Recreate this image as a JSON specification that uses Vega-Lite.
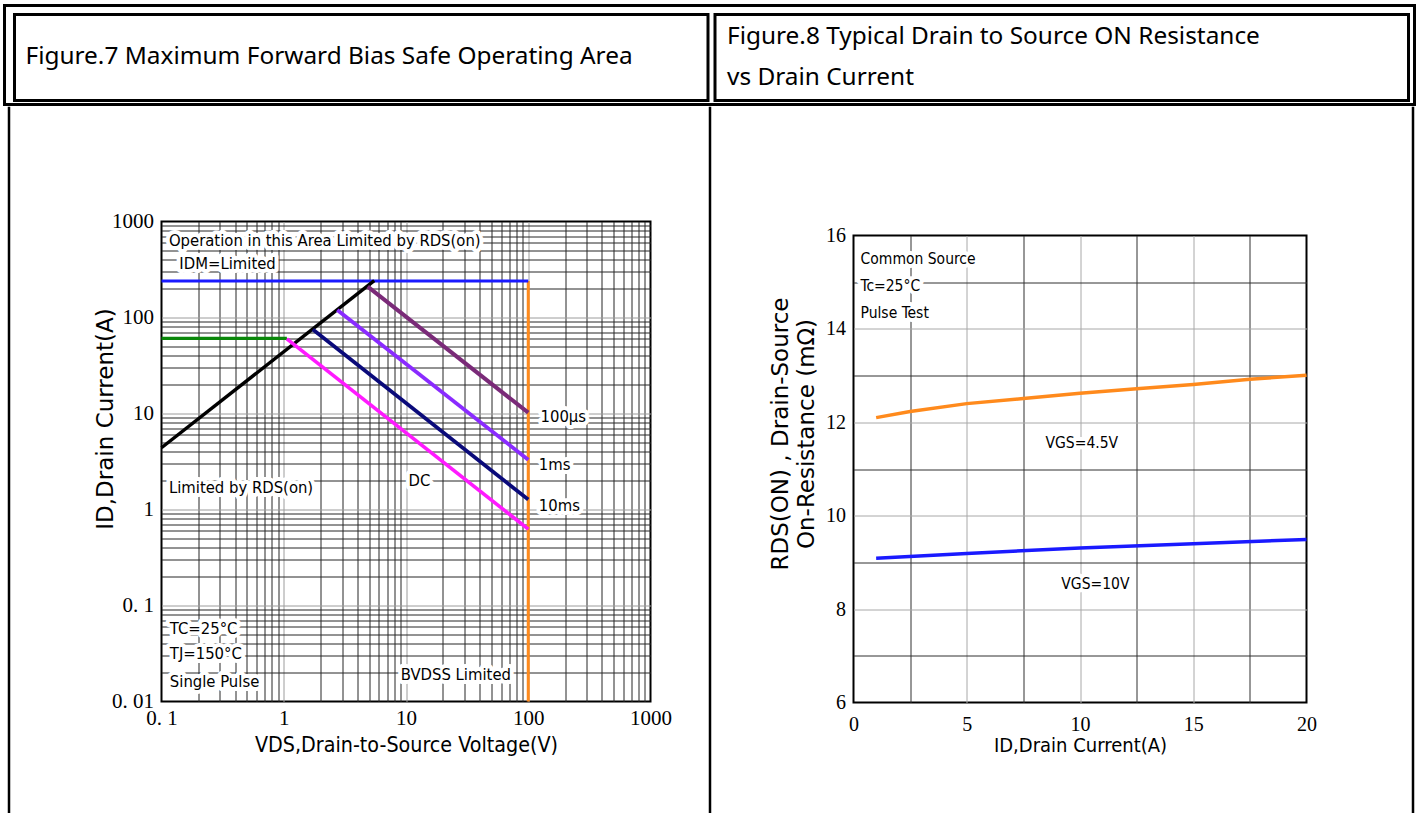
{
  "$schema": "https://vega.github.io/schema/vega-lite/v6.json",
  "background": "white",
  "padding": {"left": 2.5, "top": 3.5, "right": 2, "bottom": 0},
  "config": {"view": {"stroke": null}},
  "spacing": 0,
  "vconcat": [
    {
      "width": 1410, "height": 99,
      "view": {"stroke": "black", "strokeWidth": 3},
      "data": {"values": [
        {"panel": "Figure.7", "sec": "header", "title": "Figure.7 Maximum Forward Bias Safe Operating Area"},
        {"panel": "Figure.8", "sec": "header", "title": ["Figure.8 Typical Drain to Source ON Resistance", "vs Drain Current"]}
      ]},
      "encoding": {
        "x": {"field": "panel", "type": "nominal", "axis": null, "scale": {"paddingInner": 0.009993, "paddingOuter": 0.01142, "align": 0.625}},
        "y": {"field": "sec", "type": "nominal", "axis": null, "scale": {"paddingInner": 0, "paddingOuter": 0.0756, "align": 0.692}}
      },
      "layer": [
        {"mark": {"type": "rect", "fill": "white", "stroke": "black", "strokeWidth": 3}},
        {
          "transform": [{"filter": "datum.panel == 'Figure.7'"}],
          "mark": {"type": "text", "align": "left", "baseline": "middle", "font": "Noto Sans", "fontSize": 24.4, "dx": 11, "color": "black"},
          "encoding": {
            "x": {"field": "panel", "type": "nominal", "bandPosition": 0},
            "text": {"field": "title", "type": "nominal"}
          }
        },
        {
          "transform": [{"filter": "datum.panel == 'Figure.8'"}],
          "mark": {"type": "text", "align": "left", "baseline": "middle", "font": "Noto Sans", "fontSize": 24.4, "dx": 12, "dy": -20.5, "lineHeight": 41, "color": "black"},
          "encoding": {
            "x": {"field": "panel", "type": "nominal", "bandPosition": 0},
            "text": {"field": "title", "type": "nominal"}
          }
        }
      ]
    },
    {
      "spacing": 0,
      "hconcat": [
        {"width": 2.5, "height": 1, "data": {"values": []}, "mark": {"type": "point", "opacity": 0}, "encoding": {}},
        {"width": 1, "height": 709, "view": {"stroke": "black", "strokeWidth": 1.5}, "data": {"values": []}, "mark": {"type": "point", "opacity": 0}, "encoding": {}},
        {"width": 83, "height": 1, "data": {"values": []}, "mark": {"type": "point", "opacity": 0}, "encoding": {}},
        {
          "spacing": 101,
          "vconcat": [
            {"width": 1, "height": 1, "data": {"values": []}, "mark": {"type": "point", "opacity": 0}, "encoding": {}},
            {
              "width": 489, "height": 480,
              "view": {"stroke": "black", "strokeWidth": 2},
              "layer": [
                {
                  "data": {"values": [
                    {"series": "bvdss", "vds": 100, "id": 240}, {"series": "bvdss", "vds": 100, "id": 0.01},
                    {"series": "idm", "vds": 0.1, "id": 240}, {"series": "idm", "vds": 100, "id": 240},
                    {"series": "pkg", "vds": 0.1, "id": 60.5}, {"series": "pkg", "vds": 1.06, "id": 60.5},
                    {"series": "rds", "vds": 0.1, "id": 4.4}, {"series": "rds", "vds": 5.5, "id": 242},
                    {"series": "dc", "vds": 1.06, "id": 60}, {"series": "dc", "vds": 100, "id": 0.625},
                    {"series": "10ms", "vds": 1.73, "id": 75}, {"series": "10ms", "vds": 100, "id": 1.27},
                    {"series": "1ms", "vds": 2.74, "id": 120}, {"series": "1ms", "vds": 100, "id": 3.3},
                    {"series": "100us", "vds": 4.86, "id": 210}, {"series": "100us", "vds": 100, "id": 10.2}
                  ]},
                  "mark": {"type": "line"},
                  "encoding": {
                    "x": {
                      "field": "vds", "type": "quantitative",
                      "scale": {"type": "log", "domain": [0.1, 1000], "nice": false},
                      "axis": {
                        "title": "VDS,Drain-to-Source Voltage(V)",
                        "titleFont": "Liberation Sans Narrow, DejaVu Sans Condensed, sans-serif",
                        "titleFontSize": 21.3, "titleFontWeight": "normal", "titleColor": "black", "titlePadding": 6,
                        "values": [0.1,0.2,0.3,0.4,0.5,0.6,0.7,0.8,0.9,1,2,3,4,5,6,7,8,9,10,20,30,40,50,60,70,80,90,100,200,300,400,500,600,700,800,900,1000],
                        "labelExpr": "datum.value == 0.1 ? '0. 1' : datum.value == 1 ? '1' : datum.value == 10 ? '10' : datum.value == 100 ? '100' : datum.value == 1000 ? '1000' : ''",
                        "labelFont": "Liberation Serif", "labelFontSize": 21, "labelColor": "black",
                        "labelFlush": false, "labelOverlap": false, "labelPadding": 6,
                        "ticks": false, "tickSize": 0, "domain": false,
                        "grid": true, "gridWidth": 1,
                        "gridColor": {"condition": {"test": "datum.value == 0.1 || datum.value == 1 || datum.value == 10 || datum.value == 100 || datum.value == 1000", "value": "#9c9c9c"}, "value": "#262626"},
                        "gridOpacity": {"condition": {"test": "datum.value <= 0.1 || datum.value >= 1000", "value": 0}, "value": 1}
                      }
                    },
                    "y": {
                      "field": "id", "type": "quantitative",
                      "scale": {"type": "log", "domain": [0.01, 1000], "nice": false},
                      "axis": {
                        "title": "ID,Drain Current(A)",
                        "titleFont": "DejaVu Sans", "titleFontSize": 23, "titleFontWeight": "normal", "titleColor": "black",
                        "titleX": -44, "titleY": 197,
                        "values": [0.01,0.02,0.03,0.04,0.05,0.06,0.07,0.08,0.09,0.1,0.2,0.3,0.4,0.5,0.6,0.7,0.8,0.9,1,2,3,4,5,6,7,8,9,10,20,30,40,50,60,70,80,90,100,200,300,400,500,600,700,800,900,1000],
                        "labelExpr": "datum.value == 0.01 ? '0. 01' : datum.value == 0.1 ? '0. 1' : datum.value == 1 ? '1' : datum.value == 10 ? '10' : datum.value == 100 ? '100' : datum.value == 1000 ? '1000' : ''",
                        "labelFont": "Liberation Serif", "labelFontSize": 21, "labelColor": "black",
                        "labelFlush": false, "labelOverlap": false, "labelPadding": 8,
                        "ticks": false, "tickSize": 0, "domain": false,
                        "grid": true, "gridWidth": 1,
                        "gridColor": {"condition": {"test": "datum.value == 0.01 || datum.value == 0.1 || datum.value == 1 || datum.value == 10 || datum.value == 100 || datum.value == 1000", "value": "#9c9c9c"}, "value": "#262626"},
                        "gridOpacity": {"condition": {"test": "datum.value <= 0.01 || datum.value >= 1000", "value": 0}, "value": 1}
                      }
                    },
                    "color": {
                      "field": "series", "type": "nominal", "legend": null,
                      "scale": {
                        "domain": ["bvdss", "idm", "pkg", "rds", "dc", "10ms", "1ms", "100us"],
                        "range": ["#FF8A1C", "#1A1AFF", "#0A870A", "#000000", "#FF1AFF", "#0A0A7A", "#8A2BFF", "#7A2A78"]
                      }
                    },
                    "strokeWidth": {
                      "field": "series", "type": "nominal", "legend": null,
                      "scale": {
                        "domain": ["bvdss", "idm", "pkg", "rds", "dc", "10ms", "1ms", "100us"],
                        "range": [3, 4, 3.2, 3, 3, 3, 3, 3]
                      }
                    }
                  }
                },
                {
                  "data": {"name": "soaText", "values": [
                    {"label": "Operation in this Area Limited by RDS(on)", "vds": 0.115, "id": 619},
                    {"label": "IDM=Limited", "vds": 0.14, "id": 357},
                    {"label": "100μs", "vds": 126, "id": 9.3},
                    {"label": "1ms", "vds": 122, "id": 2.94},
                    {"label": "10ms", "vds": 122, "id": 1.1},
                    {"label": "Limited by RDS(on)", "vds": 0.115, "id": 1.69},
                    {"label": "DC", "vds": 10.5, "id": 1.96},
                    {"label": "TC=25°C", "vds": 0.117, "id": 0.0575},
                    {"label": "TJ=150°C", "vds": 0.117, "id": 0.0309},
                    {"label": "Single Pulse", "vds": 0.117, "id": 0.0158},
                    {"label": "BVDSS Limited", "vds": 9.06, "id": 0.0191}
                  ]},
                  "encoding": {
                    "x": {"field": "vds", "type": "quantitative"},
                    "y": {"field": "id", "type": "quantitative"},
                    "text": {"field": "label", "type": "nominal"}
                  },
                  "layer": [
                    {"mark": {"type": "text", "align": "left", "baseline": "middle", "font": "Liberation Sans Narrow, DejaVu Sans Condensed, sans-serif", "fontSize": 16.5, "fill": "white", "stroke": "white", "strokeWidth": 8, "strokeJoin": "round"}},
                    {"mark": {"type": "text", "align": "left", "baseline": "middle", "font": "Liberation Sans Narrow, DejaVu Sans Condensed, sans-serif", "fontSize": 16.5, "color": "black"}}
                  ]
                }
              ]
            }
          ]
        },
        {"width": 35.75, "height": 1, "data": {"values": []}, "mark": {"type": "point", "opacity": 0}, "encoding": {}},
        {"width": 1, "height": 709, "view": {"stroke": "black", "strokeWidth": 1.5}, "data": {"values": []}, "mark": {"type": "point", "opacity": 0}, "encoding": {}},
        {"width": 56.25, "height": 1, "data": {"values": []}, "mark": {"type": "point", "opacity": 0}, "encoding": {}},
        {
          "spacing": 116,
          "vconcat": [
            {"width": 1, "height": 1, "data": {"values": []}, "mark": {"type": "point", "opacity": 0}, "encoding": {}},
            {
              "width": 453, "height": 467,
              "view": {"stroke": "black", "strokeWidth": 2},
              "layer": [
                {
                  "data": {"values": [
                    {"vgs": "4.5V", "idc": 1, "rds": 12.1}, {"vgs": "4.5V", "idc": 2.5, "rds": 12.23},
                    {"vgs": "4.5V", "idc": 5, "rds": 12.4}, {"vgs": "4.5V", "idc": 7.5, "rds": 12.51},
                    {"vgs": "4.5V", "idc": 10, "rds": 12.62}, {"vgs": "4.5V", "idc": 12.5, "rds": 12.72},
                    {"vgs": "4.5V", "idc": 15, "rds": 12.81}, {"vgs": "4.5V", "idc": 17.5, "rds": 12.92},
                    {"vgs": "4.5V", "idc": 20, "rds": 13.01},
                    {"vgs": "10V", "idc": 1, "rds": 9.09}, {"vgs": "10V", "idc": 5, "rds": 9.19},
                    {"vgs": "10V", "idc": 10, "rds": 9.31}, {"vgs": "10V", "idc": 15, "rds": 9.4},
                    {"vgs": "10V", "idc": 20, "rds": 9.49}
                  ]},
                  "mark": {"type": "line", "strokeWidth": 3.5},
                  "encoding": {
                    "x": {
                      "field": "idc", "type": "quantitative",
                      "scale": {"domain": [0, 20], "nice": false},
                      "axis": {
                        "title": "ID,Drain Current(A)",
                        "titleFont": "Liberation Sans Narrow, DejaVu Sans Condensed, sans-serif",
                        "titleFontSize": 20, "titleFontWeight": "normal", "titleColor": "black", "titlePadding": 1,
                        "values": [0, 2.5, 5, 7.5, 10, 12.5, 15, 17.5, 20],
                        "labelExpr": "datum.value % 5 == 0 ? toString(datum.value) : ''",
                        "labelFont": "Liberation Serif", "labelFontSize": 20, "labelColor": "black",
                        "labelFlush": false, "labelOverlap": false, "labelPadding": 12,
                        "ticks": false, "tickSize": 0, "domain": false,
                        "grid": true, "gridWidth": 1,
                        "gridColor": {"condition": {"test": "datum.value % 5 == 0", "value": "#a8a8a8"}, "value": "#303030"},
                        "gridOpacity": {"condition": {"test": "datum.value <= 0 || datum.value >= 20", "value": 0}, "value": 1}
                      }
                    },
                    "y": {
                      "field": "rds", "type": "quantitative",
                      "scale": {"domain": [6, 16], "nice": false, "zero": false},
                      "axis": {
                        "title": ["RDS(ON) , Drain-Source", "On-Resistance (mΩ)"],
                        "titleFont": "DejaVu Sans", "titleFontSize": 23, "titleFontWeight": "normal", "titleColor": "black",
                        "titleLineHeight": 26, "titleX": -61, "titleY": 198,
                        "values": [6, 7, 8, 9, 10, 11, 12, 13, 14, 15, 16],
                        "labelExpr": "datum.value % 2 == 0 ? toString(datum.value) : ''",
                        "labelFont": "Liberation Serif", "labelFontSize": 20, "labelColor": "black",
                        "labelFlush": false, "labelOverlap": false, "labelPadding": 8,
                        "ticks": false, "tickSize": 0, "domain": false,
                        "grid": true, "gridWidth": 1,
                        "gridColor": {"condition": {"test": "datum.value % 2 == 0", "value": "#a8a8a8"}, "value": "#303030"},
                        "gridOpacity": {"condition": {"test": "datum.value <= 6 || datum.value >= 16", "value": 0}, "value": 1}
                      }
                    },
                    "color": {
                      "field": "vgs", "type": "nominal", "legend": null,
                      "scale": {"domain": ["4.5V", "10V"], "range": ["#FF8000", "#0A0AEE"]}
                    }
                  }
                },
                {
                  "data": {"values": [
                    {"label": "Common Source", "idc": 0.31, "rds": 15.49},
                    {"label": "Tc=25°C", "idc": 0.31, "rds": 14.92},
                    {"label": "Pulse Test", "idc": 0.31, "rds": 14.35}
                  ]},
                  "encoding": {
                    "x": {"field": "idc", "type": "quantitative"},
                    "y": {"field": "rds", "type": "quantitative"},
                    "text": {"field": "label", "type": "nominal"}
                  },
                  "layer": [
                    {"mark": {"type": "text", "align": "left", "baseline": "middle", "font": "Liberation Sans Narrow, DejaVu Sans Condensed, sans-serif", "fontSize": 15.5, "fill": "white", "stroke": "white", "strokeWidth": 8, "strokeJoin": "round"}},
                    {"mark": {"type": "text", "align": "left", "baseline": "middle", "font": "Liberation Sans Narrow, DejaVu Sans Condensed, sans-serif", "fontSize": 15.5, "color": "black"}}
                  ]
                },
                {
                  "data": {"values": [
                    {"label": "VGS=4.5V", "idc": 10.08, "rds": 11.55},
                    {"label": "VGS=10V", "idc": 10.68, "rds": 8.53}
                  ]},
                  "encoding": {
                    "x": {"field": "idc", "type": "quantitative"},
                    "y": {"field": "rds", "type": "quantitative"},
                    "text": {"field": "label", "type": "nominal"}
                  },
                  "layer": [
                    {"mark": {"type": "text", "align": "center", "baseline": "middle", "font": "Liberation Sans Narrow, DejaVu Sans Condensed, sans-serif", "fontSize": 15.5, "fill": "white", "stroke": "white", "strokeWidth": 8, "strokeJoin": "round"}},
                    {"mark": {"type": "text", "align": "center", "baseline": "middle", "font": "Liberation Sans Narrow, DejaVu Sans Condensed, sans-serif", "fontSize": 15.5, "color": "black"}}
                  ]
                }
              ]
            }
          ]
        },
        {"width": 93.75, "height": 1, "data": {"values": []}, "mark": {"type": "point", "opacity": 0}, "encoding": {}},
        {"width": 1, "height": 709, "view": {"stroke": "black", "strokeWidth": 1.5}, "data": {"values": []}, "mark": {"type": "point", "opacity": 0}, "encoding": {}}
      ]
    }
  ]
}
